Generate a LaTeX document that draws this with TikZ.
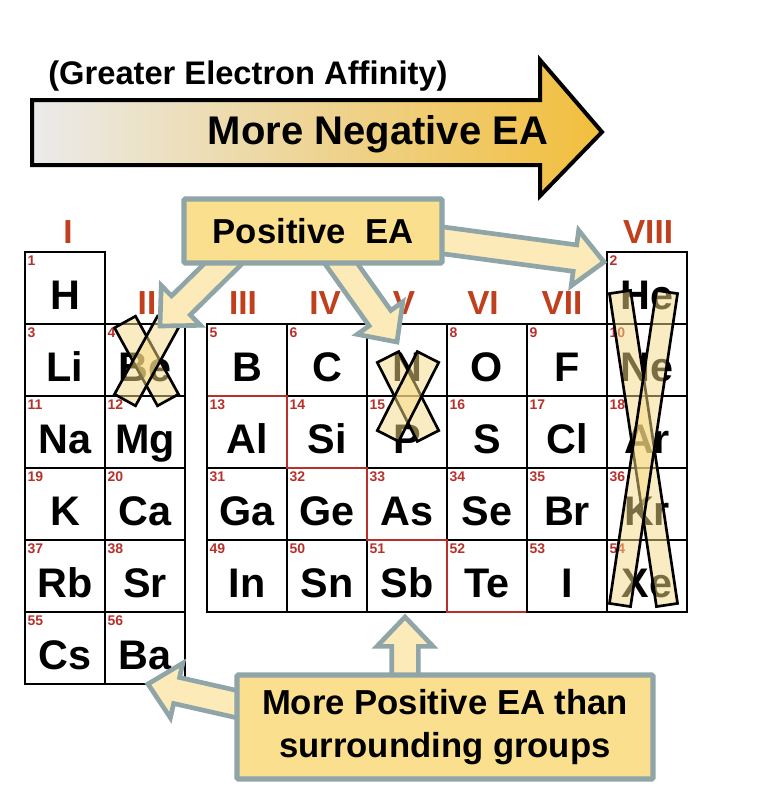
\documentclass[tikz,border=0pt]{standalone}
\usepackage{fontspec}
\setmainfont{Liberation Sans}
\usetikzlibrary{calc}
\definecolor{grp}{HTML}{C0401E}
\definecolor{num}{HTML}{B8302A}
\definecolor{boxfill}{HTML}{FAE08E}
\definecolor{arrfill}{HTML}{FCEAB8}
\definecolor{arrline}{HTML}{8FA5A8}
\definecolor{gold}{HTML}{F2BE3C}
\definecolor{xfill}{HTML}{F6DA85}
\tikzset{
  cellbox/.style={draw=black, line width=0.8pt},
  sym/.style={font=\fontsize{31}{34}\selectfont\bfseries, anchor=base, inner sep=0pt},
  anum/.style={font=\fontsize{10.5}{11}\selectfont\bfseries, text=num, anchor=north west, inner sep=1pt},
  glabel/.style={font=\fontsize{25}{27}\selectfont\bfseries, text=grp},
  callout/.style={draw=arrline, line width=4pt, fill=boxfill, rounded corners=1pt},
  fatarr/.style={draw=arrline, line width=3.5pt, fill=arrfill, line join=miter},
  xmark/.style={draw=black, line width=2pt, fill=xfill, fill opacity=0.5},
}
\newcommand{\fatarrow}[2]{%
  \coordinate (hb) at ($(#2)!22pt!(#1)$);
  \filldraw[fatarr] ($(#1)!10pt!90:(#2)$) -- ($(hb)!10pt!90:(#2)$) -- ($(hb)!21pt!90:(#2)$) -- (#2)
     -- ($(hb)!21pt!-90:(#2)$) -- ($(hb)!10pt!-90:(#2)$) -- ($(#1)!10pt!-90:(#2)$) -- cycle;}
\newcommand{\xbar}[3]{%
  \filldraw[xmark] ($(#1)!#3!90:(#2)$) -- ($(#2)!#3!-90:(#1)$) -- ($(#2)!#3!90:(#1)$) -- ($(#1)!#3!-90:(#2)$) -- cycle;}
\begin{document}
\begin{tikzpicture}[x=0.75pt,y=-0.75pt]
\useasboundingbox (0,0) rectangle (762,792);
% big arrow
\shade[left color=white!92!black, right color=gold, draw=black, line width=3pt, line join=miter]
  (32,100) -- (540,100) -- (540,60) -- (602,132) -- (540,196) -- (540,165) -- (32,165) -- cycle;
\node[font=\fontsize{24.5}{26}\selectfont\bfseries] (gea) at (248,76) {(Greater Electron Affinity)};
\node[font=\fontsize{30}{33}\selectfont\bfseries] (mne) at (378,134) {More Negative EA};
% group labels
\node[glabel] (gI) at (68,232) {I};
\node[glabel] (gII) at (147,303) {II};
\node[glabel] (gIII) at (243,303) {III};
\node[glabel] (gIV) at (325,303) {IV};
\node[glabel] (gV) at (404,303) {V};
\node[glabel] (gVI) at (483,303) {VI};
\node[glabel] (gVII) at (562,303) {VII};
\node[glabel] (gVIII) at (648,232) {VIII};
% cells
\foreach \x/\y/\n/\s/\id in {25/252/1/H/H, 25/324/3/Li/Li, 105/324/4/Be/Be, 25/396/11/Na/Na, 105/396/12/Mg/Mg,
  25/468/19/K/K, 105/468/20/Ca/Ca, 25/540/37/Rb/Rb, 105/540/38/Sr/Sr, 25/612/55/Cs/Cs, 105/612/56/Ba/Ba,
  207/324/5/B/B, 287/324/6/C/C, 367/324/7/N/N, 447/324/8/O/O, 527/324/9/F/F, 607/324/10/Ne/Ne,
  207/396/13/Al/Al, 287/396/14/Si/Si, 367/396/15/P/P, 447/396/16/S/S, 527/396/17/Cl/Cl, 607/396/18/Ar/Ar,
  207/468/31/Ga/Ga, 287/468/32/Ge/Ge, 367/468/33/As/As, 447/468/34/Se/Se, 527/468/35/Br/Br, 607/468/36/Kr/Kr,
  207/540/49/In/In, 287/540/50/Sn/Sn, 367/540/51/Sb/Sb, 447/540/52/Te/Te, 527/540/53/I/I, 607/540/54/Xe/Xe,
  607/252/2/He/He}{
  \draw[cellbox] (\x,\y) rectangle ++(80,72);
  \node[anum] (n\id) at (\x+1,\y+2) {\n};
  \node[sym] (\id) at (\x+40,\y+57) {\s};
}
\draw[num, line width=0.8pt] (208,396) -- (287,396) -- (287,468) -- (367,468) -- (367,540) -- (447,540) -- (447,612) -- (526,612);
% X marks
\xbar{125,322}{168,400}{9pt}
\xbar{168,322}{125,400}{9pt}
\xbar{388,357}{428,436}{9pt}
\xbar{428,357}{388,436}{9pt}
\xbar{620,292}{667,605}{8pt}
\xbar{667,292}{620,605}{8pt}
% callout top
\coordinate (a1s) at (232,255); \coordinate (a1e) at (160,326);
\coordinate (a2s) at (335,255); \coordinate (a2e) at (397,342);
\coordinate (a3s) at (440,240); \coordinate (a3e) at (604,262);
\fatarrow{a1s}{a1e}
\fatarrow{a2s}{a2e}
\fatarrow{a3s}{a3e}
\node[callout, minimum width=258pt*0.75, minimum height=64pt*0.75, font=\fontsize{26}{28}\selectfont\bfseries] (pos) at (313,231) {Positive\ \ EA};
% callout bottom
\coordinate (b1s) at (405,680); \coordinate (b1e) at (405,617);
\coordinate (b2s) at (245,706); \coordinate (b2e) at (148,684);
\fatarrow{b1s}{b1e}
\fatarrow{b2s}{b2e}
\node[callout, minimum width=416pt*0.75, minimum height=104pt*0.75, align=center,
  font=\fontsize{26}{32}\selectfont\bfseries] (mpos) at (445,727) {More Positive EA than\\surrounding groups};
\end{tikzpicture}
\end{document}
